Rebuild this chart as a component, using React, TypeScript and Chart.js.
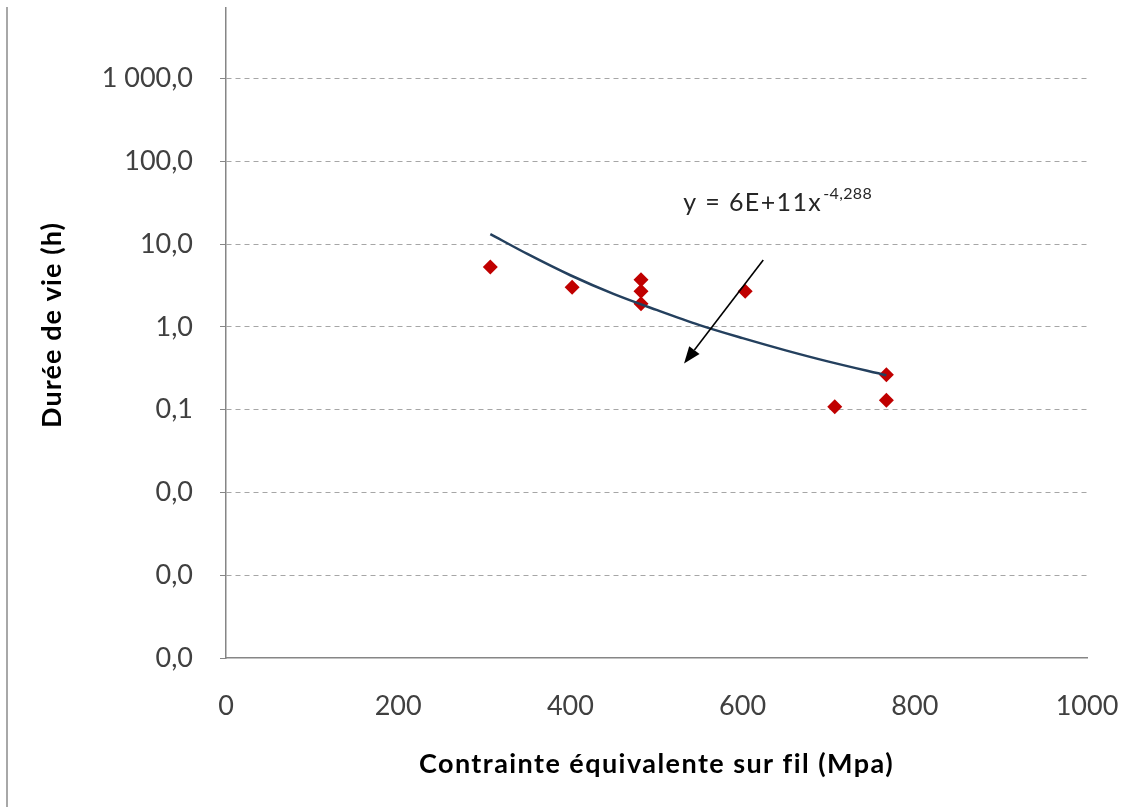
import React, { useEffect, useRef } from "react";
import { Chart, registerables } from "chart.js";

Chart.register(...registerables);

// Measured points: stress (MPa) vs lifetime (h)
const stressValues = [307, 402, 482, 482, 482, 603, 707, 767, 767];
const lifeValues = [5.3, 3.0, 3.7, 2.7, 1.9, 2.7, 0.108, 0.263, 0.13];

// Power trendline y = 6E+11 x^-4,288
const trendX = [307, 350, 400, 450, 500, 550, 600, 650, 700, 767];
const trendY = [13.2, 7.6, 4.2, 2.5, 1.6, 1.05, 0.73, 0.52, 0.38, 0.26];

const xTickValues = [0, 200, 400, 600, 800, 1000];
const yTickValues = [0.0001, 0.001, 0.01, 0.1, 1, 10, 100, 1000];

const xTitle = "Contrainte équivalente sur fil (Mpa)";
const yTitle = "Durée de vie (h)";
const equationMain = "y = 6E+11x";
const equationExp = "-4,288";

// annotation anchors in data space
const equationAnchor = { x: 531, y: 25.3 };
const arrowFrom = { x: 624, y: 6.4 };
const arrowTo = { x: 532, y: 0.36 };

const FONT = "Lato, 'Open Sans', sans-serif";

function formatTick(v: number): string {
  const s = v.toFixed(1).replace(".", ",");
  const [ip, dp] = s.split(",");
  const withSpaces = ip.replace(/\B(?=(\d{3})+(?!\d))/g, " ");
  return withSpaces + "," + dp;
}

function fitText(ctx: any, text: string, target: number) {
  ctx.letterSpacing = "0px";
  const w0 = ctx.measureText(text).width;
  const ls = Math.max(-2, Math.min(4, (target - w0) / Math.max(1, text.length)));
  ctx.letterSpacing = ls.toFixed(2) + "px";
}

const annotationPlugin = {
  id: "annotations",
  afterDatasetsDraw(chart: any) {
    const { ctx, scales } = chart;
    const xs = scales.x;
    const ys = scales.y;
    ctx.save();
    // Arrow
    const x1 = xs.getPixelForValue(arrowFrom.x);
    const y1 = ys.getPixelForValue(arrowFrom.y);
    const x2 = xs.getPixelForValue(arrowTo.x);
    const y2 = ys.getPixelForValue(arrowTo.y);
    const ang = Math.atan2(y2 - y1, x2 - x1);
    const headLen = 17;
    const headW = 6.5;
    const bx = x2 - headLen * Math.cos(ang);
    const by = y2 - headLen * Math.sin(ang);
    ctx.strokeStyle = "#000";
    ctx.lineWidth = 1.6;
    ctx.beginPath();
    ctx.moveTo(x1, y1);
    ctx.lineTo(bx, by);
    ctx.stroke();
    ctx.fillStyle = "#000";
    ctx.beginPath();
    ctx.moveTo(x2, y2);
    ctx.lineTo(bx + headW * Math.sin(ang), by - headW * Math.cos(ang));
    ctx.lineTo(bx - headW * Math.sin(ang), by + headW * Math.cos(ang));
    ctx.closePath();
    ctx.fill();

    // Equation text
    const ex = xs.getPixelForValue(equationAnchor.x);
    const ey = ys.getPixelForValue(equationAnchor.y);
    ctx.fillStyle = "#262626";
    ctx.textAlign = "left";
    ctx.textBaseline = "alphabetic";
    ctx.font = `25px ${FONT}`;
    fitText(ctx, equationMain, 139);
    ctx.fillText(equationMain, ex, ey);
    const w = ctx.measureText(equationMain).width;
    ctx.font = `16px ${FONT}`;
    fitText(ctx, equationExp, 49);
    ctx.fillText(equationExp, ex + w + 1, ey - 12);

    // Axis titles
    ctx.fillStyle = "#000";
    ctx.font = `bold 27px ${FONT}`;
    ctx.textAlign = "center";
    ctx.textBaseline = "alphabetic";
    fitText(ctx, xTitle, 475);
    ctx.fillText(xTitle, (chart.chartArea.left + chart.chartArea.right) / 2, 773);
    ctx.save();
    ctx.translate(61, 325);
    ctx.rotate(-Math.PI / 2);
    fitText(ctx, yTitle, 206);
    ctx.fillText(yTitle, 0, 0);
    ctx.restore();
    ctx.letterSpacing = "0px";

    // Outer left frame line
    ctx.strokeStyle = "#a8a8a8";
    ctx.lineWidth = 2;
    ctx.beginPath();
    ctx.moveTo(7, 7);
    ctx.lineTo(7, 807);
    ctx.stroke();
    ctx.restore();
  },
};

export default function App() {
  const canvasRef = useRef<HTMLCanvasElement | null>(null);

  useEffect(() => {
    if (!canvasRef.current) return;
    const chart = new Chart(canvasRef.current, {
      type: "scatter",
      data: {
        datasets: [
          {
            label: "Trend",
            data: trendX.map((x, i) => ({ x, y: trendY[i] })),
            showLine: true,
            borderColor: "#24405e",
            borderWidth: 2.5,
            pointRadius: 0,
            cubicInterpolationMode: "monotone",
            order: 0,
          },
          {
            label: "Mesures",
            data: stressValues.map((x, i) => ({ x, y: lifeValues[i] })),
            pointStyle: "rectRot",
            pointRadius: 7.5,
            backgroundColor: "#c00000",
            borderColor: "#c00000",
            borderWidth: 0,
            order: 1,
          },
        ],
      },
      options: {
        animation: false,
        responsive: false,
        maintainAspectRatio: false,
        layout: { padding: { top: 7, right: 54, left: 0, bottom: 0 } },
        plugins: {
          legend: { display: false },
          title: { display: false },
          tooltip: { enabled: false },
        },
        scales: {
          x: {
            type: "linear",
            min: 0,
            max: 1000,
            afterBuildTicks: (scale: any) => {
              scale.ticks = xTickValues.map((v) => ({ value: v }));
            },
            afterFit: (scale: any) => {
              scale.height = 807 - 658;
              scale.paddingLeft = 0;
              scale.paddingRight = 0;
            },
            grid: { display: false, drawTicks: false },
            border: { display: true, color: "#868686", width: 1.5 },
            ticks: {
              padding: 32,
              color: "#404040",
              font: { family: FONT, size: 27 },
              maxRotation: 0,
              callback: (v: any) => String(v),
            },
          },
          y: {
            type: "logarithmic",
            min: 0.0001,
            max: 7200,
            afterBuildTicks: (scale: any) => {
              scale.ticks = yTickValues.map((v) => ({ value: v }));
            },
            afterFit: (scale: any) => {
              scale.width = 226;
              scale.paddingTop = 0;
              scale.paddingBottom = 0;
            },
            grid: {
              color: (ctx: any) => (ctx.tick && ctx.tick.value === 0.0001 ? "rgba(0,0,0,0)" : "#a6a6a6"),
              lineWidth: 1,
              tickColor: "#868686",
              tickLength: 6,
            } as any,
            border: { display: true, color: "#868686", width: 1.5, dash: [5, 4] },
            ticks: {
              padding: 27,
              color: "#404040",
              font: { family: FONT, size: 27 },
              callback: (v: any) => formatTick(Number(v)),
            },
          },
        },
      },
      plugins: [annotationPlugin],
    } as any);
    return () => chart.destroy();
  }, []);

  return (
    <div style={{ position: "fixed", left: 0, top: 0, width: 1141, height: 807, background: "#fff" }}>
      <canvas ref={canvasRef} width={1141} height={807} style={{ display: "block" }} />
    </div>
  );
}
